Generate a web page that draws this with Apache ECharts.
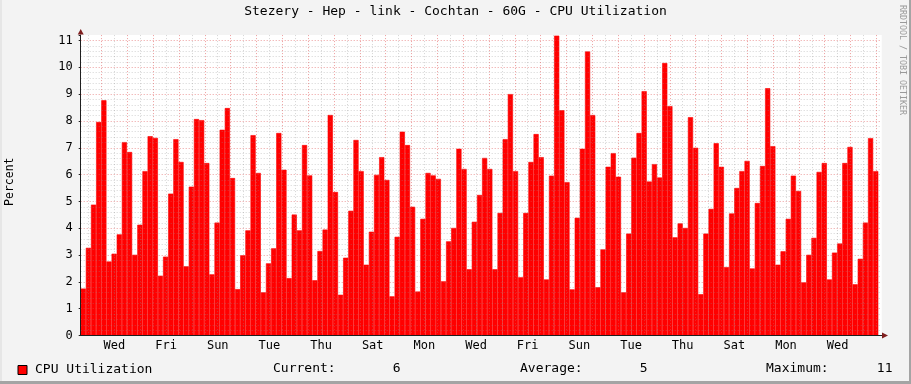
<!DOCTYPE html>
<html><head><meta charset="utf-8">
<script src="https://cdn.jsdelivr.net/npm/echarts@6/dist/echarts.min.js"></script>
<style>html,body{margin:0;padding:0;background:#f3f3f3}#c{width:911px;height:384px}</style>
</head><body><div id="c"></div>
<script>
const chartTitle = 'Stezery - Hep - link - Cochtan - 60G - CPU Utilization';
const seriesName = 'CPU Utilization';
const unitLabel = 'Percent';
const watermark = 'RRDTOOL / TOBI OETIKER';
const cpuValues = [
 1.75,3.27,4.88,7.96,8.77,2.76,3.05,3.77,7.21,6.84,
 3.01,4.13,6.13,7.43,7.37,2.23,2.94,5.29,7.32,6.47,
 2.58,5.55,8.07,8.03,6.43,2.28,4.21,7.67,8.48,5.87,
 1.73,2.99,3.92,7.47,6.06,1.61,2.69,3.25,7.55,6.18,
 2.14,4.51,3.92,7.10,5.97,2.06,3.15,3.95,8.22,5.35,
 1.52,2.90,4.65,7.29,6.13,2.64,3.87,5.99,6.65,5.80,
 1.46,3.68,7.60,7.10,4.80,1.64,4.35,6.06,5.97,5.84,
 2.02,3.51,4.01,6.96,6.21,2.47,4.24,5.24,6.62,6.21,
 2.47,4.57,7.32,9.00,6.13,2.17,4.57,6.47,7.51,6.65,
 2.09,5.96,11.18,8.40,5.72,1.72,4.39,6.96,10.59,8.22,
 1.80,3.21,6.29,6.80,5.92,1.61,3.80,6.63,7.55,9.11,
 5.74,6.39,5.89,10.16,8.55,3.66,4.18,4.01,8.14,7.00,
 1.54,3.80,4.72,7.17,6.29,2.55,4.55,5.50,6.13,6.51,
 2.50,4.94,6.32,9.22,7.06,2.64,3.14,4.35,5.96,5.39,
 1.98,3.01,3.64,6.10,6.43,2.09,3.09,3.43,6.43,7.03,
 1.91,2.86,4.21,7.36,6.13
];
const stepCategories = cpuValues.map((v, i) => 'step ' + (i + 1));
const xTickLabels = ['Wed','Fri','Sun','Tue','Thu','Sat','Mon','Wed','Fri','Sun','Tue','Thu','Sat','Mon','Wed'];
const yTickLabels = ['0','1','2','3','4','5','6','7','8','9','10','11'];
const statCurrent = '6';
const statAverage = '5';
const statMaximum = '11';

const FONT = '"DejaVu Sans Mono", monospace';
const MAJOR = 'rgba(222,79,79,0.55)';
const MINOR = 'rgba(143,143,143,0.38)';
const PLOT_TOP = 35.1, PLOT_H = 300.4, PLOT_L = 80.7;

const chart = echarts.init(document.getElementById('c'), null, {renderer: 'canvas'});
const option = {
  animation: false,
  backgroundColor: '#f3f3f3',
  title: {text: chartTitle, left: 'center', top: 5, padding: 0,
    textStyle: {fontFamily: FONT, fontSize: 13, fontWeight: 'normal', color: '#000'}},
  legend: {data: [seriesName], left: 17.5, top: 363.5, padding: 0, icon: 'rect',
    itemWidth: 9, itemHeight: 9, itemGap: 5,
    itemStyle: {borderColor: '#000', borderWidth: 1},
    textStyle: {fontFamily: FONT, fontSize: 13, color: '#000', padding: [0, 0, 0, 3]}},
  grid: [
    {left: PLOT_L, top: PLOT_TOP, width: 801, height: PLOT_H, show: true, backgroundColor: '#fff', borderWidth: 0},
    {left: PLOT_L, top: PLOT_TOP, width: 797.6, height: PLOT_H},
    {left: PLOT_L, top: 40.48, width: 801, height: 295.02},
    {left: 88.6, top: PLOT_TOP, width: 787.8, height: PLOT_H}
  ],
  xAxis: [
    {gridIndex: 0, type: 'value', min: 0, max: 1, z: 5,
      axisLine: {show: true, lineStyle: {color: '#1f1f1f', width: 1}},
      axisTick: {show: false}, axisLabel: {show: false}, splitLine: {show: false}},
    {gridIndex: 1, type: 'category', data: stepCategories, boundaryGap: true, show: false},
    {gridIndex: 2, type: 'value', min: 0, max: 1, show: false},
    {gridIndex: 3, type: 'value', min: 0, max: 61, interval: 1, z: 3,
      axisLine: {show: false}, axisTick: {show: false},
      axisLabel: {show: true, margin: 4, fontFamily: FONT, fontSize: 12, color: '#000',
        formatter: v => ((v - 2) % 4 === 0 && v >= 2) ? (xTickLabels[(v - 2) / 4] || '') : ''},
      splitLine: {show: true, lineStyle: {color: [MINOR, MAJOR], type: [1, 2], width: 1}}}
  ],
  yAxis: [
    {gridIndex: 0, type: 'value', min: 0, max: 1, show: false},
    {gridIndex: 1, type: 'value', min: 0, max: 11.2, interval: 1, z: 5,
      axisLine: {show: true, lineStyle: {color: '#1f1f1f', width: 1}},
      axisTick: {show: true, length: 2, lineStyle: {color: '#1f1f1f'}},
      axisLabel: {margin: 8, fontFamily: FONT, fontSize: 12, color: '#000',
        formatter: v => Number.isInteger(v) ? yTickLabels[v] : ''},
      splitLine: {show: false}},
    {gridIndex: 2, type: 'value', min: 0, max: 11, interval: 1, z: 3,
      axisLine: {show: false}, axisTick: {show: false}, axisLabel: {show: false},
      splitLine: {show: true, lineStyle: {color: MAJOR, type: [1, 2], width: 1}},
      minorTick: {show: false, splitNumber: 5},
      minorSplitLine: {show: true, lineStyle: {color: MINOR, type: [1, 2], width: 1}}},
    {gridIndex: 3, type: 'value', min: 0, max: 1, show: false}
  ],
  series: [{
    type: 'bar', name: seriesName, xAxisIndex: 1, yAxisIndex: 1, data: cpuValues,
    barCategoryGap: '0%', barGap: '0%', z: 2,
    itemStyle: {color: '#ff0000', borderColor: '#ff0000', borderWidth: 0.6}
  }],
  graphic: [
    {type: 'rect', shape: {x: 0, y: 381, width: 911, height: 3}, style: {fill: '#a4a4a4'}, silent: true},
    {type: 'rect', shape: {x: 909, y: 0, width: 2, height: 384}, style: {fill: '#a4a4a4'}, silent: true},
    {type: 'rect', shape: {x: 0, y: 0, width: 2, height: 381}, style: {fill: '#e6e6e6'}, silent: true},
    {type: 'polygon', shape: {points: [[77.7, 34.6], [83.7, 34.6], [80.7, 29]]}, style: {fill: '#7f1f1f'}, z: 10},
    {type: 'polygon', shape: {points: [[882, 332.5], [882, 338.5], [888, 335.5]]}, style: {fill: '#7f1f1f'}, z: 10},
    {type: 'text', x: 10.5, y: 181.7, rotation: Math.PI / 2,
      style: {text: unitLabel, font: '11.5px ' + FONT, fill: '#000', textAlign: 'center', textVerticalAlign: 'middle'}},
    {type: 'text', x: 902, y: 60, rotation: -Math.PI / 2,
      style: {text: watermark, font: '8.3px ' + FONT, fill: '#9a9a9a', textAlign: 'center', textVerticalAlign: 'middle'}},
    {type: 'text', x: 273, y: 368.5, style: {text: 'Current:', font: '13px ' + FONT, fill: '#000', textAlign: 'left', textVerticalAlign: 'middle'}},
    {type: 'text', x: 400.5, y: 368.5, style: {text: statCurrent, font: '13px ' + FONT, fill: '#000', textAlign: 'right', textVerticalAlign: 'middle'}},
    {type: 'text', x: 520, y: 368.5, style: {text: 'Average:', font: '13px ' + FONT, fill: '#000', textAlign: 'left', textVerticalAlign: 'middle'}},
    {type: 'text', x: 647.5, y: 368.5, style: {text: statAverage, font: '13px ' + FONT, fill: '#000', textAlign: 'right', textVerticalAlign: 'middle'}},
    {type: 'text', x: 766, y: 368.5, style: {text: 'Maximum:', font: '13px ' + FONT, fill: '#000', textAlign: 'left', textVerticalAlign: 'middle'}},
    {type: 'text', x: 892.5, y: 368.5, style: {text: statMaximum, font: '13px ' + FONT, fill: '#000', textAlign: 'right', textVerticalAlign: 'middle'}}
  ]
};
chart.setOption(option);
</script>
</body></html>
